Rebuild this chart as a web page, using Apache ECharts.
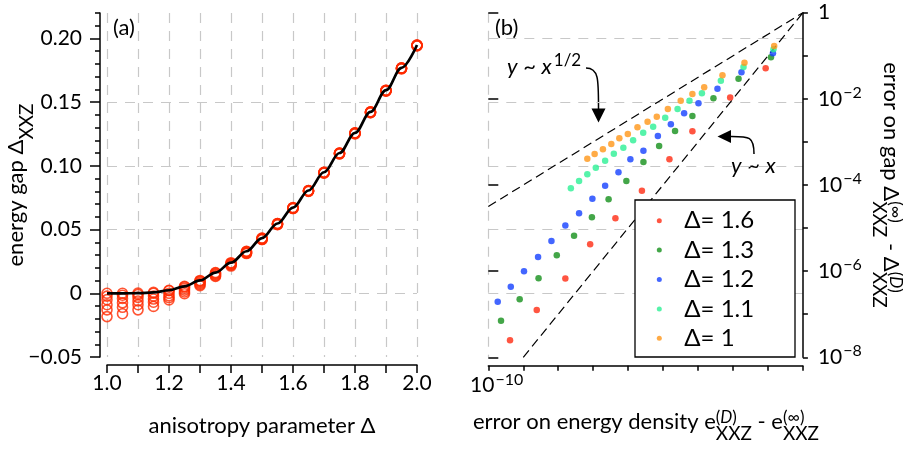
<!DOCTYPE html>
<html>
<head>
<meta charset="utf-8">
<script src="https://cdn.jsdelivr.net/npm/echarts@6/dist/echarts.min.js"></script>
<style>
  html, body { margin: 0; padding: 0; background: #fff; }
  #chart { width: 903px; height: 449px; }
</style>
</head>
<body>
<div id="chart"></div>
<script>
// ---------- panel (a): XXZ energy gap versus anisotropy ----------
const deltas = [1.00, 1.05, 1.10, 1.15, 1.20, 1.25, 1.30, 1.35, 1.40, 1.45, 1.50,
                1.55, 1.60, 1.65, 1.70, 1.75, 1.80, 1.85, 1.90, 1.95, 2.00];

// exact (Bethe ansatz) gap
const exactGap = [0, 0.000001, 0.0001, 0.0007, 0.0024, 0.0055, 0.0101, 0.0163, 0.0240, 0.0330, 0.0433,
                  0.0548, 0.0673, 0.0807, 0.0950, 0.1101, 0.1259, 0.1424, 0.1594, 0.1769, 0.1949];

// finite bond-dimension estimates, largest D first
const gapD1 = [0, 0.0000, 0.0001, 0.0007, 0.0024, 0.0055, 0.0101, 0.0163, 0.0240, 0.0330, 0.0433,
               0.0548, 0.0673, 0.0807, 0.0950, 0.1101, 0.1259, 0.1424, 0.1594, 0.1769, 0.1949];
const gapD2 = [-0.0022, -0.0015, -0.0010, 0.0000, 0.0020, 0.0050, 0.0097, 0.0158, 0.0236, 0.0327, 0.0431,
               0.0547, 0.0672, 0.0806, 0.0949, 0.1100, 0.1258, 0.1423, 0.1593, 0.1768, 0.1948];
const gapD3 = [-0.0050, -0.0040, -0.0032, -0.0022, 0.0000, 0.0040, 0.0090, 0.0152, 0.0231, 0.0323, 0.0428,
               0.0545, 0.0670, 0.0805, 0.0948, 0.1099, 0.1257, 0.1422, 0.1592, 0.1767, 0.1947];
const gapD4 = [-0.0090, -0.0075, -0.0060, -0.0045, -0.0020, 0.0025, 0.0080, 0.0145, 0.0225, 0.0318, 0.0425,
               0.0542, 0.0668, 0.0803, 0.0946, 0.1097, 0.1255, 0.1420, 0.1590, 0.1765, 0.1945];
const gapD5 = [-0.0130, -0.0110, -0.0090, -0.0070, -0.0035, 0.0010, 0.0070, 0.0138, 0.0220, 0.0315, 0.0423,
               0.0540, 0.0666, 0.0801, 0.0944, 0.1095, 0.1253, 0.1418, 0.1588, 0.1763, 0.1943];
const gapD6 = [-0.0183, -0.0160, -0.0130, -0.0103, -0.0052, -0.0003, 0.0060, 0.0132, 0.0214, 0.0312, 0.0422,
               0.0539, 0.0665, 0.0800, 0.0943, 0.1094, 0.1252, 0.1417, 0.1587, 0.1762, 0.1942];

const gapTickValues = [-0.05, 0, 0.05, 0.10, 0.15, 0.20];

// ---------- panel (b): gap error versus energy-density error ----------
const seriesNames = ['Δ= 1.6', 'Δ= 1.3', 'Δ= 1.2', 'Δ= 1.1', 'Δ= 1'];

const energyErr16 = [8.6e-4, 8.3e-5, 6.9e-6, 1.52e-6, 2.48e-7, 4.33e-8, 8.2e-9, 1.6e-9, 2.43e-10, 4.18e-11];
const gapErr16    = [0.0512, 0.0108, 0.00177, 3.97e-4, 7.38e-5, 1.69e-5, 4.21e-6, 6.76e-7, 1.26e-7, 2.49e-8];

const energyErr13 = [1.22e-3, 1.44e-4, 2.76e-5, 6.9e-6, 2.2e-6, 7.7e-7, 2.74e-7, 8.9e-8, 2.76e-8, 9.2e-9,
                     2.84e-9, 9.1e-10, 2.74e-10, 7.9e-11, 2.31e-11];
const gapErr13    = [0.0922, 0.0294, 0.0103, 0.0040, 0.00179, 8.05e-4, 3.42e-4, 1.24e-4, 4.69e-5, 1.78e-5,
                     6.62e-6, 2.34e-6, 6.87e-7, 2.22e-7, 7.05e-8];

const energyErr12 = [1.39e-3, 1.75e-4, 3.6e-5, 1.03e-5, 4.0e-6, 1.67e-6, 7.1e-7, 2.74e-7, 1.16e-7, 5.3e-8,
                     2.2e-8, 9.5e-9, 3.95e-9, 1.6e-9, 6.4e-10, 2.65e-10, 1.05e-10, 4.4e-11, 1.86e-11];
const gapErr12    = [0.114, 0.0414, 0.0172, 0.00789, 0.00462, 0.00256, 0.00137, 6.27e-4, 3.95e-4, 1.97e-4,
                     9.64e-5, 4.81e-5, 2.21e-5, 1.14e-5, 5.02e-6, 2.13e-6, 9.93e-7, 4.34e-7, 1.95e-7];

const energyErr11 = [1.44e-3, 2.0e-4, 4.5e-5, 1.29e-5, 5.7e-6, 2.6e-6, 1.15e-6, 5.2e-7, 2.7e-7, 1.39e-7,
                     7.3e-8, 3.9e-8, 2.2e-8, 1.19e-8, 6.8e-9, 3.95e-9, 2.3e-9];
const gapErr11    = [0.141, 0.055, 0.0264, 0.0135, 0.00906, 0.00582, 0.00366, 0.00226, 0.00164, 0.00109,
                     7.35e-4, 5.33e-4, 3.67e-4, 2.52e-4, 1.77e-4, 1.24e-4, 8.4e-5];

const energyErr10 = [1.51e-3, 2.13e-4, 5.0e-5, 1.50e-5, 6.9e-6, 3.2e-6, 1.37e-6, 6.6e-7, 3.6e-7, 1.85e-7,
                     9.8e-8, 5.6e-8, 3.3e-8, 1.9e-8, 1.1e-8, 6.8e-9];
const gapErr10    = [0.169, 0.069, 0.0352, 0.0185, 0.0130, 0.00906, 0.00582, 0.00385, 0.00295, 0.00219,
                     0.00153, 0.00122, 8.95e-4, 6.75e-4, 5.25e-4, 4.08e-4];

// reference power laws  y ~ x  and  y ~ x^(1/2)
const linearGuideX = [1e-10, 1e-2];
const linearGuideY = [1e-8, 1];
const sqrtGuideX = [1e-11, 1e-2];
const sqrtGuideY = [3.16e-5, 1];

const errExponentTicks = [-8, -6, -4, -2, 0];

// ---------- styling ----------
const FONT = 'Lato';
const INK = '#000';
const GRID_GRAY = '#c8c8c8';
const CIRCLE_RED = '#ff2a00';
const DOT_COLORS = ['#ff2a12', '#14901a', '#1440ff', '#2cf095', '#ff9618'];
const AXIS_LINE = { color: INK, width: 1.5 };
const GRID_DASH = { color: GRID_GRAY, width: 1.2, type: [10, 8] };
const TICK_FONT = 21;
const TITLE_FONT = 22;

const zip = (xs, ys) => xs.map((x, i) => [x, ys[i]]);
const gapRuns = [gapD1, gapD2, gapD3, gapD4, gapD5, gapD6];
const errPairs = [
  [energyErr16, gapErr16], [energyErr13, gapErr13], [energyErr12, gapErr12],
  [energyErr11, gapErr11], [energyErr10, gapErr10]
];

const supRich = { fontSize: 16, fontFamily: FONT, color: INK, padding: [0, 0, 12, 1] };

// text measurement for the composite (super/subscripted) titles
const measureCtx = document.createElement('canvas').getContext('2d');
function textWidth(str, size, italic) {
  measureCtx.font = (italic ? 'italic ' : '') + size + 'px ' + FONT;
  return measureCtx.measureText(str).width;
}
const SUP_SIZE = 17, SUB_SIZE = 19;
// lays out text pieces left to right; {sup, sub} pieces are stacked; the group is centred on (cx, cy)
function scriptedTitle(parts, cx, cy, rotation, supDy, subDy) {
  const children = [];
  let x = 0;
  parts.forEach(p => {
    if (typeof p === 'string') {
      children.push({ type: 'text', x, y: 0,
        style: { text: p, fontSize: TITLE_FONT, fontFamily: FONT, fill: INK, verticalAlign: 'middle' } });
      x += textWidth(p, TITLE_FONT);
    } else {
      children.push({ type: 'text', x, y: supDy,
        style: { text: p.sup, fontSize: SUP_SIZE, fontFamily: FONT, fill: INK, verticalAlign: 'middle',
                 rich: { it: { fontStyle: 'italic', fontSize: SUP_SIZE, fontFamily: FONT, color: INK } } } });
      children.push({ type: 'text', x, y: subDy,
        style: { text: p.sub, fontSize: SUB_SIZE, fontFamily: FONT, fill: INK, verticalAlign: 'middle' } });
      x += Math.max(textWidth(p.supPlain, SUP_SIZE), textWidth(p.sub, SUB_SIZE));
    }
  });
  children.forEach(c => { c.x -= x / 2; });
  return { type: 'group', x: cx, y: cy, rotation, children };
}

const chart = echarts.init(document.getElementById('chart'), null, { renderer: 'canvas' });

const leftSeries = gapRuns.map(run => ({
  type: 'scatter', xAxisIndex: 0, yAxisIndex: 0,
  symbol: 'circle', symbolSize: 10,
  itemStyle: { color: 'rgba(0,0,0,0)', borderColor: CIRCLE_RED, borderWidth: 1.6 },
  data: zip(deltas, run), z: 2, silent: true
}));
leftSeries.push({
  type: 'line', xAxisIndex: 0, yAxisIndex: 0, data: zip(deltas, exactGap),
  smooth: 0.35, smoothMonotone: 'x', symbol: 'none', showSymbol: false,
  lineStyle: { color: INK, width: 2.7 }, z: 3, silent: true
});

const rightSeries = errPairs.map((pair, i) => ({
  type: 'scatter', name: seriesNames[i], xAxisIndex: 1, yAxisIndex: 2,
  symbol: 'circle', symbolSize: 6.5, itemStyle: { color: DOT_COLORS[i] },
  data: zip(pair[0], pair[1]), z: 3, silent: true
}));
[[linearGuideX, linearGuideY], [sqrtGuideX, sqrtGuideY]].forEach(g => rightSeries.push({
  type: 'line', xAxisIndex: 1, yAxisIndex: 2, data: zip(g[0], g[1]),
  symbol: 'none', showSymbol: false, lineStyle: { color: INK, width: 1.2, type: [9, 5] }, z: 2, silent: true
}));

const option = {
  animation: false,
  backgroundColor: '#fff',
  textStyle: { fontFamily: FONT, color: INK },
  grid: [
    { left: 107, top: 13, width: 310, height: 344, outerBoundsMode: 'none', containLabel: false },
    { left: 488.3, top: 12.7, width: 314.6, height: 344.6, outerBoundsMode: 'none', containLabel: false }
  ],
  legend: {
    data: seriesNames.map(n => ({ name: n, icon: 'circle' })),
    orient: 'vertical', left: 635, top: 200,
    itemWidth: 40, itemHeight: 5, itemGap: 0,
    padding: [6, 40.7, 4, 21.8],
    backgroundColor: '#fff', borderColor: INK, borderWidth: 1.3, borderRadius: 0,
    textStyle: { fontSize: 24, fontFamily: FONT, color: INK, lineHeight: 29.4, width: 70 },
    selectedMode: false, z: 10
  },
  xAxis: [
    {
      gridIndex: 0, type: 'value', min: 1, max: 2, interval: 0.1, position: 'bottom', offset: 8,
      axisLine: { show: true, onZero: false, lineStyle: AXIS_LINE },
      axisTick: { show: true, length: 8, lineStyle: AXIS_LINE },
      axisLabel: { fontSize: TICK_FONT, color: INK, margin: 8,
                   formatter: v => (Math.round(v * 10) % 2 === 0 ? v.toFixed(1) : '') },
      splitLine: { show: true, lineStyle: GRID_DASH },
      name: 'anisotropy parameter Δ', nameLocation: 'middle', nameGap: 50, nameMoveOverlap: false,
      nameTextStyle: { fontSize: TITLE_FONT, color: INK, fontFamily: FONT }
    },
    {
      gridIndex: 1, type: 'log', logBase: 10, min: 1e-11, max: 1e-2, splitNumber: 9,
      position: 'bottom', offset: 8.4,
      axisLine: { show: true, onZero: false, lineStyle: AXIS_LINE },
      axisTick: { show: true, length: 5, lineStyle: AXIS_LINE },
      axisLabel: { fontSize: TICK_FONT, color: INK, margin: 6, align: 'right',
                   formatter: v => (Math.abs(Math.log10(v) + 10) < 0.01 ? '10{sup|−10}' : ''),
                   rich: { sup: supRich } },
      splitLine: { show: false }
    },
    {
      gridIndex: 1, type: 'value', min: 0, max: 1, interval: 1,
      axisLine: { show: false }, axisTick: { show: false }, axisLabel: { show: false },
      splitLine: { show: true, showMinLine: true, showMaxLine: false, lineStyle: GRID_DASH }
    }
  ],
  yAxis: [
    {
      gridIndex: 0, type: 'value', min: -0.05, max: 0.22, interval: 0.05, position: 'left', offset: 7,
      axisLine: { show: true, onZero: false, lineStyle: AXIS_LINE },
      axisTick: { show: true, length: 10, customValues: gapTickValues, lineStyle: AXIS_LINE },
      axisLabel: { fontSize: TICK_FONT, color: INK, margin: 18, customValues: gapTickValues,
                   formatter: v => (Math.abs(v) < 1e-9 ? '0' : (v < 0 ? '−' + Math.abs(v).toFixed(2) : v.toFixed(2))) },
      splitLine: { show: true, showMinLine: false, showMaxLine: false, lineStyle: GRID_DASH },
      name: '{m|energy gap Δ}{sub|XXZ}', nameLocation: 'middle', nameGap: 64, nameRotate: 90,
      nameMoveOverlap: false,
      nameTextStyle: { rich: {
        m: { fontSize: TITLE_FONT, fontFamily: FONT, color: INK },
        sub: { fontSize: 19, fontFamily: FONT, color: INK, padding: [21, 0, 0, 0] }
      } }
    },
    {
      gridIndex: 0, type: 'value', min: -0.05, max: 0.22, interval: 0.01, position: 'left', offset: 7,
      axisLine: { show: false }, axisTick: { show: true, length: 5, lineStyle: AXIS_LINE },
      axisLabel: { show: false }, splitLine: { show: false }
    },
    {
      gridIndex: 1, type: 'log', logBase: 10, min: 1e-8, max: 1, splitNumber: 8, position: 'right', offset: 0,
      axisLine: { show: true, onZero: false, lineStyle: AXIS_LINE },
      axisTick: { show: true, length: 5, lineStyle: AXIS_LINE },
      axisLabel: { show: false }, splitLine: { show: false }
    },
    {
      gridIndex: 1, type: 'value', min: -8, max: 0, interval: 2, position: 'right', offset: 0,
      axisLine: { show: false },
      axisTick: { show: true, length: 10, customValues: errExponentTicks, lineStyle: AXIS_LINE },
      axisLabel: { fontSize: TICK_FONT, color: INK, margin: 15, customValues: errExponentTicks,
                   formatter: v => (v === 0 ? '1' : '10{sup|−' + Math.abs(v) + '}'),
                   rich: { sup: supRich } },
      splitLine: { show: false }
    },
    {
      gridIndex: 1, type: 'value', min: -0.05, max: 0.22, interval: 0.05, position: 'left',
      axisLine: { show: false }, axisTick: { show: false }, axisLabel: { show: false },
      splitLine: { show: true, showMinLine: false, showMaxLine: false, lineStyle: GRID_DASH }
    }
  ],
  series: leftSeries.concat(rightSeries),
  graphic: [
    { type: 'text', x: 113, y: 28, style: { text: '(a)', fontSize: TITLE_FONT, fontFamily: FONT, fill: INK, verticalAlign: 'middle' } },
    { type: 'text', x: 495, y: 28, style: { text: '(b)', fontSize: TITLE_FONT, fontFamily: FONT, fill: INK, verticalAlign: 'middle' } },
    { type: 'text', x: 507, y: 67, style: {
        text: '{i|y} ~ {i|x}{s|1/2}', fontSize: 22, fontFamily: FONT, fill: INK, verticalAlign: 'middle',
        rich: { i: { fontStyle: 'italic', fontSize: 22, fontFamily: FONT, color: INK },
                s: { fontSize: 17, fontFamily: FONT, color: INK, padding: [0, 0, 12, 2] } } } },
    { type: 'text', x: 731, y: 166, style: {
        text: '{i|y} ~ {i|x}', fontSize: 22, fontFamily: FONT, fill: INK, verticalAlign: 'middle',
        rich: { i: { fontStyle: 'italic', fontSize: 22, fontFamily: FONT, color: INK } } } },
    { type: 'bezierCurve', shape: { x1: 586, y1: 68, cpx1: 599, cpy1: 68, cpx2: 598.5, cpy2: 80, x2: 598.5, y2: 110 },
      style: { stroke: INK, lineWidth: 1.5, fill: null } },
    { type: 'polygon', shape: { points: [[591.5, 108.5], [605.5, 108.5], [598.5, 122.5]] }, style: { fill: INK } },
    { type: 'bezierCurve', shape: { x1: 754, y1: 154, cpx1: 754, cpy1: 136, cpx2: 749, cpy2: 136.5, x2: 730, y2: 136.5 },
      style: { stroke: INK, lineWidth: 1.5, fill: null } },
    { type: 'polygon', shape: { points: [[731, 130], [731, 143], [717.5, 136.5]] }, style: { fill: INK } },
    scriptedTitle(['error on energy density e', { sup: '({it|D})', supPlain: '(D)', sub: 'XXZ' },
                   ' - e', { sup: '(∞)', supPlain: '(∞)', sub: 'XXZ' }], 646, 422, 0, -4, 12),
    scriptedTitle(['error on gap Δ', { sup: '(∞)', supPlain: '(∞)', sub: 'XXZ' },
                   ' - Δ', { sup: '({it|D})', supPlain: '(D)', sub: 'XXZ' }], 891, 185, -Math.PI / 2, -4, 12)
  ]
};

chart.setOption(option);
</script>
</body>
</html>
